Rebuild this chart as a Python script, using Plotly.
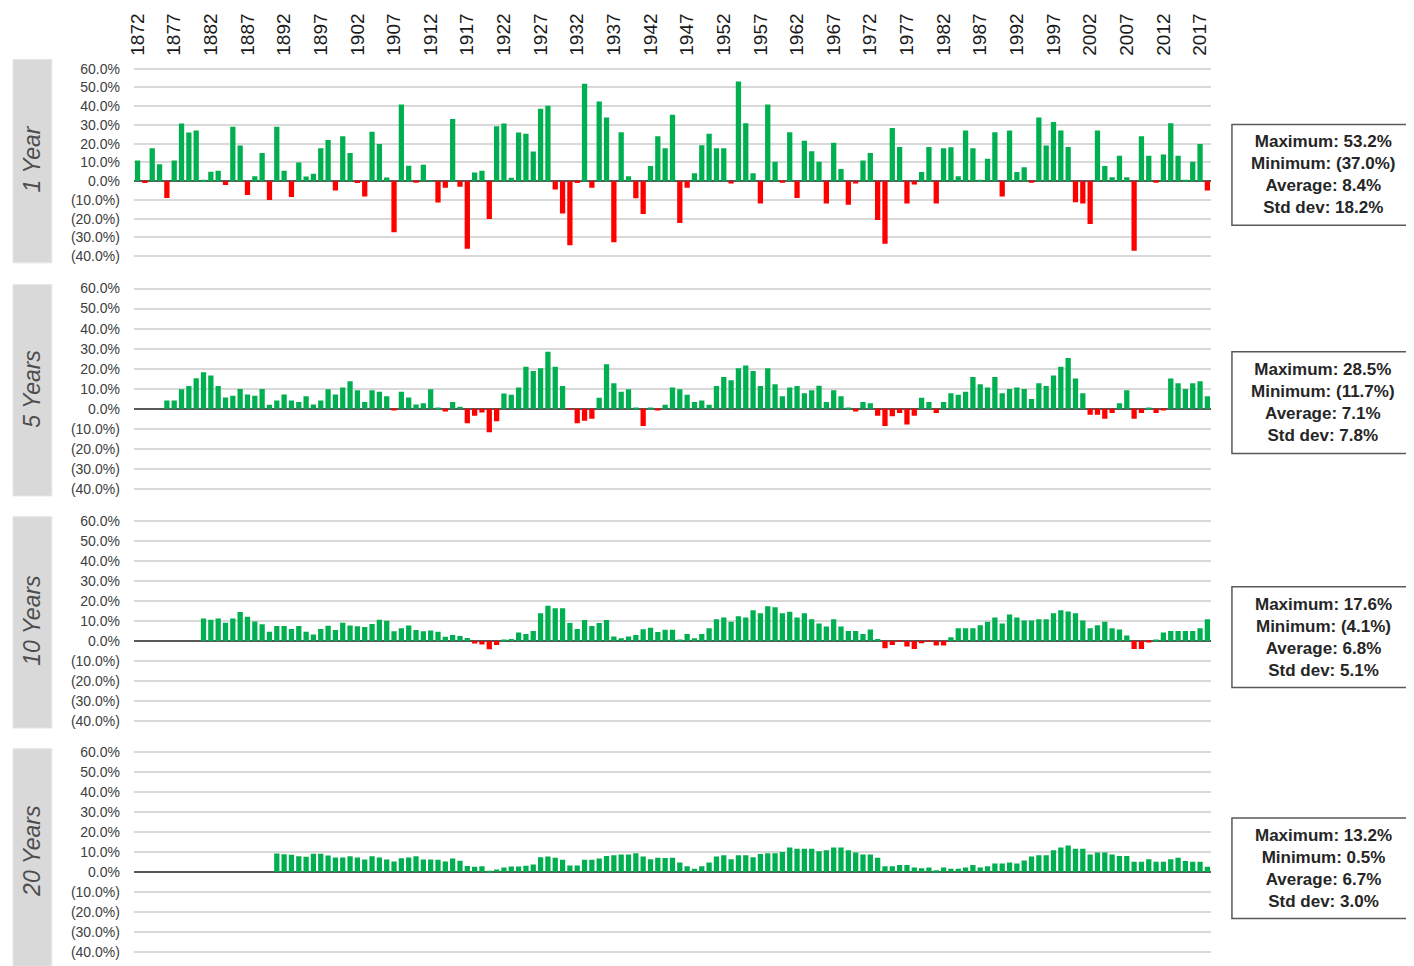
import plotly.graph_objects as go

years = list(range(1872, 2019))
tick_years = [1872, 1877, 1882, 1887, 1892, 1897, 1902, 1907, 1912, 1917, 1922, 1927,
              1932, 1937, 1942, 1947, 1952, 1957, 1962, 1967, 1972, 1977, 1982, 1987,
              1992, 1997, 2002, 2007, 2012, 2017]

# 1-year returns, 1872-2018 (%)
ret_1y = [11.0, -1.0, 17.5, 9.0, -9.0, 11.0, 30.7, 26.0, 27.0, 0.5,
          5.0, 5.6, -2.0, 29.0, 19.0, -7.4, 2.6, 15.0, -10.0, 29.0,
          5.6, -8.4, 10.0, 2.5, 4.0, 17.5, 22.0, -5.0, 24.0, 15.0,
          -1.0, -8.2, 26.3, 19.8, 2.0, -27.2, 40.9, 8.2, -0.5, 8.8,
          0.2, -11.4, -3.5, 33.2, -3.0, -36.0, 4.7, 5.6, -20.2, 29.3,
          30.7, 1.8, 26.0, 25.3, 15.8, 38.6, 40.2, -4.4, -17.2, -34.2,
          -1.0, 52.0, -3.5, 42.5, 33.9, -32.5, 26.1, 2.6, -9.1, -17.5,
          8.1, 23.9, 17.5, 35.4, -22.3, -3.5, 4.2, 19.1, 25.3, 17.5,
          17.5, -1.2, 53.2, 30.9, 4.2, -11.9, 40.9, 10.4, -0.5, 26.1,
          -8.9, 21.6, 16.0, 10.4, -11.9, 20.5, 6.5, -12.6, -1.2, 11.0,
          15.0, -20.7, -33.3, 28.4, 18.2, -11.9, -1.8, 4.9, 18.2, -11.9,
          17.5, 18.1, 2.6, 27.0, 17.5, 0.5, 11.9, 26.1, -8.1, 27.0,
          4.9, 7.4, -0.5, 33.9, 19.0, 31.6, 27.0, 18.2, -11.2, -11.9,
          -22.8, 27.0, 8.1, 2.1, 13.5, 2.1, -37.0, 23.9, 13.5, -0.5,
          14.2, 30.9, 13.5, 0.3, 10.4, 19.8, -4.9]

# 5-year annualized returns, 1876-2018 (%)
ret_5y = [4.2, 4.2, 9.8, 11.4, 15.3, 18.2, 16.6, 11.4, 5.7, 6.5,
          9.9, 7.2, 6.5, 9.9, 2.0, 4.2, 7.2, 4.2, 3.4, 6.3,
          2.1, 4.2, 9.8, 7.2, 10.7, 13.7, 9.3, 3.4, 9.3, 8.5,
          6.3, -0.5, 8.5, 5.7, 2.1, 2.8, 9.8, 0.3, -1.3, 3.4,
          1.1, -7.2, -3.4, -1.8, -11.7, -6.2, 7.6, 7.0, 10.6, 21.0,
          18.9, 20.2, 28.5, 21.0, 11.4, -0.3, -7.2, -5.9, -5.0, 5.5,
          22.3, 12.8, 8.5, 9.8, 0.2, -8.6, 0.2, -0.4, 2.0, 10.7,
          9.8, 7.0, 3.4, 4.2, 2.0, 11.4, 15.9, 14.3, 20.2, 21.6,
          18.9, 11.4, 20.2, 12.2, 6.3, 10.7, 11.4, 7.8, 9.3, 11.5,
          3.4, 9.3, 6.3, 0.3, -1.3, 3.4, 2.8, -3.4, -8.6, -3.7,
          -2.1, -7.8, -3.4, 5.5, 3.4, -2.1, 3.4, 7.8, 7.0, 8.5,
          15.9, 12.2, 10.7, 15.9, 7.8, 9.9, 10.7, 9.9, 4.9, 12.8,
          11.4, 16.6, 21.0, 25.4, 15.1, 7.8, -2.9, -2.9, -5.0, -2.1,
          2.8, 9.3, -5.0, -2.1, 0.2, -2.1, -0.5, 15.1, 12.8, 9.9,
          12.8, 13.7, 6.3]

# 10-year annualized returns, 1881-2018 (%)
ret_10y = [11.2, 10.6, 11.2, 9.1, 11.2, 14.4, 12.1, 9.7, 8.3, 4.6,
           7.5, 7.5, 6.0, 7.4, 4.6, 3.2, 6.0, 7.6, 5.5, 9.1,
           7.7, 7.3, 7.0, 8.4, 10.5, 10.0, 4.8, 6.3, 7.7, 5.5,
           4.8, 5.2, 4.6, 2.1, 3.0, 2.4, 1.4, -1.3, -1.8, -4.1,
           -2.0, 0.3, 1.0, 4.2, 3.5, 5.0, 13.8, 17.6, 16.3, 16.3,
           8.9, 5.9, 10.4, 7.4, 8.9, 10.4, 2.2, 1.3, 2.2, 2.9,
           5.8, 6.6, 4.4, 5.6, 5.6, 0.4, 3.5, 1.3, 3.5, 6.3,
           10.8, 11.7, 9.5, 12.3, 11.7, 15.3, 13.8, 17.3, 16.8, 13.8,
           14.5, 11.7, 13.8, 10.8, 8.7, 7.2, 10.8, 7.2, 5.0, 5.0,
           3.5, 5.7, 1.0, -3.7, -2.0, -0.3, -2.8, -4.0, -1.2, -0.3,
           -2.3, -2.3, 1.8, 6.3, 6.3, 6.3, 7.8, 9.5, 11.7, 8.7,
           13.2, 11.7, 10.2, 10.2, 10.8, 10.8, 13.8, 15.3, 14.7, 13.8,
           10.2, 6.3, 7.8, 9.5, 6.3, 5.7, 2.7, -4.0, -4.0, -0.5,
           0.2, 4.2, 5.0, 5.0, 5.0, 5.0, 6.3, 10.8]

# 20-year annualized returns, 1891-2018 (%)
ret_20y = [9.2, 8.9, 8.6, 7.9, 7.6, 9.1, 9.1, 8.2, 7.2, 7.2,
           7.8, 7.2, 6.3, 7.8, 7.2, 6.3, 5.2, 6.9, 7.2, 7.8,
           6.3, 6.2, 6.1, 5.2, 6.8, 5.6, 3.0, 2.6, 2.9, 0.5,
           1.2, 2.3, 2.7, 2.8, 3.1, 3.7, 7.4, 7.7, 7.1, 6.1,
           3.2, 3.2, 6.1, 6.1, 6.8, 8.0, 8.4, 8.7, 8.7, 9.3,
           7.7, 6.4, 7.1, 7.0, 7.1, 4.8, 2.9, 1.6, 2.9, 4.8,
           7.7, 8.4, 6.4, 8.4, 8.4, 7.4, 9.0, 9.3, 9.3, 10.0,
           12.2, 11.6, 11.6, 11.6, 10.3, 10.9, 12.2, 12.2, 10.9, 9.7,
           8.7, 8.7, 7.1, 2.9, 2.9, 3.5, 3.5, 2.2, 1.9, 2.2,
           0.9, 2.2, 1.6, 1.6, 2.2, 3.5, 2.2, 2.9, 4.2, 4.2,
           4.8, 4.2, 5.8, 7.7, 8.4, 8.4, 10.9, 12.2, 13.2, 11.6,
           11.6, 8.7, 9.7, 9.7, 8.7, 8.0, 8.0, 5.1, 5.1, 6.4,
           5.1, 5.1, 6.4, 7.1, 5.5, 5.1, 5.1, 2.6]

panel_names = ["1 Year", "5 Years", "10 Years", "20 Years"]
stats = [
    ["Maximum: 53.2%", "Minimum: (37.0%)", "Average: 8.4%", "Std dev: 18.2%"],
    ["Maximum: 28.5%", "Minimum: (11.7%)", "Average: 7.1%", "Std dev: 7.8%"],
    ["Maximum: 17.6%", "Minimum: (4.1%)", "Average: 6.8%", "Std dev: 5.1%"],
    ["Maximum: 13.2%", "Minimum: 0.5%", "Average: 6.7%", "Std dev: 3.0%"],
]
y_ticks = [60, 50, 40, 30, 20, 10, 0, -10, -20, -30, -40]
y_ticktext = ["60.0%", "50.0%", "40.0%", "30.0%", "20.0%", "10.0%", "0.0%",
              "(10.0%)", "(20.0%)", "(30.0%)", "(40.0%)"]

series = [ret_1y, ret_5y, ret_10y, ret_20y]
assert len(ret_1y) == 147 and len(ret_5y) == 143 and len(ret_10y) == 138 and len(ret_20y) == 128

W, H = 1414, 966
OFF = 8  # page body margin offset
GREEN = "#00b050"
RED = "#ff0000"
FONT = "Liberation Sans, Arial, sans-serif"


def px(x):
    return (x - OFF) / W


def py(y):
    return 1 - (y - OFF) / H


# pixel layout of each panel: (y of 60%, y of -40%)
panel_px = [(63.3, 253.3), (286.0, 489.0), (521.0, 724.0), (755.0, 958.0)]
label_box = [(54, 260), (282, 496), (517, 731), (752, 972)]
stat_box = [(120, 222), (350, 453), (588, 690), (822, 924)]
X_LEFT, X_RIGHT = 127.5, 1210.0

fig = go.Figure()
layout = dict(
    width=W, height=H,
    margin=dict(l=0, r=0, t=0, b=0),
    paper_bgcolor="white", plot_bgcolor="white",
    showlegend=False, bargap=0.26,
    font=dict(family=FONT, color="#333333"),
)
shapes = []
annotations = []

for i, vals in enumerate(series):
    n = len(vals)
    xs = years[-n:]
    colors = [GREEN if v >= 0 else RED for v in vals]
    suffix = "" if i == 0 else str(i + 1)
    fig.add_trace(go.Bar(x=xs, y=vals, marker=dict(color=colors, line=dict(width=0)),
                         xaxis="x" + suffix, yaxis="y" + suffix, width=0.72))
    top, bot = panel_px[i]
    per = (bot - top) / 100.0
    y0 = bot + per * 1.0
    y1 = top - per * 1.0
    layout["xaxis" + suffix] = dict(
        domain=[px(X_LEFT), px(X_RIGHT)], range=[1871.5, 2018.5],
        anchor="y" + suffix, showgrid=False, zeroline=False, showline=False,
        showticklabels=(i == 0), side="top" if i == 0 else "bottom",
        tickmode="array", tickvals=tick_years, ticktext=[str(t) for t in tick_years],
        tickangle=-90, ticks="", ticklabelstandoff=10,
        tickfont=dict(family=FONT, size=19, color="#1a1a1a"),
    )
    layout["yaxis" + suffix] = dict(
        domain=[py(y0), py(y1)], range=[-41, 61], anchor="x" + suffix,
        tickmode="array", tickvals=y_ticks, ticktext=y_ticktext, ticks="",
        ticklabelstandoff=13,
        tickfont=dict(family=FONT, size=14, color="#404040"),
        showgrid=True, gridcolor="#d9d9d9", gridwidth=1.5,
        zeroline=True, zerolinecolor="#595959", zerolinewidth=2, showline=False,
    )
    # grey side label box
    lb0, lb1 = label_box[i]
    shapes.append(dict(type="rect", xref="paper", yref="paper",
                       x0=px(6), x1=px(45), y0=py(lb1), y1=py(lb0),
                       fillcolor="#d9d9d9", line=dict(color="#e6e6e6", width=1), layer="below"))
    annotations.append(dict(xref="paper", yref="paper", x=px(25.5), y=py((lb0 + min(lb1, 962)) / 2 - 2),
                            text=panel_names[i], showarrow=False, textangle=-90,
                            font=dict(family=FONT, size=23, color="#4d4d4d", style="italic"),
                            xanchor="center", yanchor="middle"))
    # stats box
    sb0, sb1 = stat_box[i]
    shapes.append(dict(type="rect", xref="paper", yref="paper",
                       x0=px(1231), x1=px(1413), y0=py(sb1), y1=py(sb0),
                       fillcolor="white", line=dict(color="#595959", width=1.5)))
    annotations.append(dict(xref="paper", yref="paper", x=px(1323), y=py((sb0 + sb1) / 2),
                            text="<br>".join(stats[i]), showarrow=False, align="center",
                            font=dict(family=FONT, size=17, color="#262626", weight="bold"),
                            xanchor="center", yanchor="middle"))

layout["shapes"] = shapes
layout["annotations"] = annotations
fig.update_layout(**layout)
fig.write_html("out.html")
